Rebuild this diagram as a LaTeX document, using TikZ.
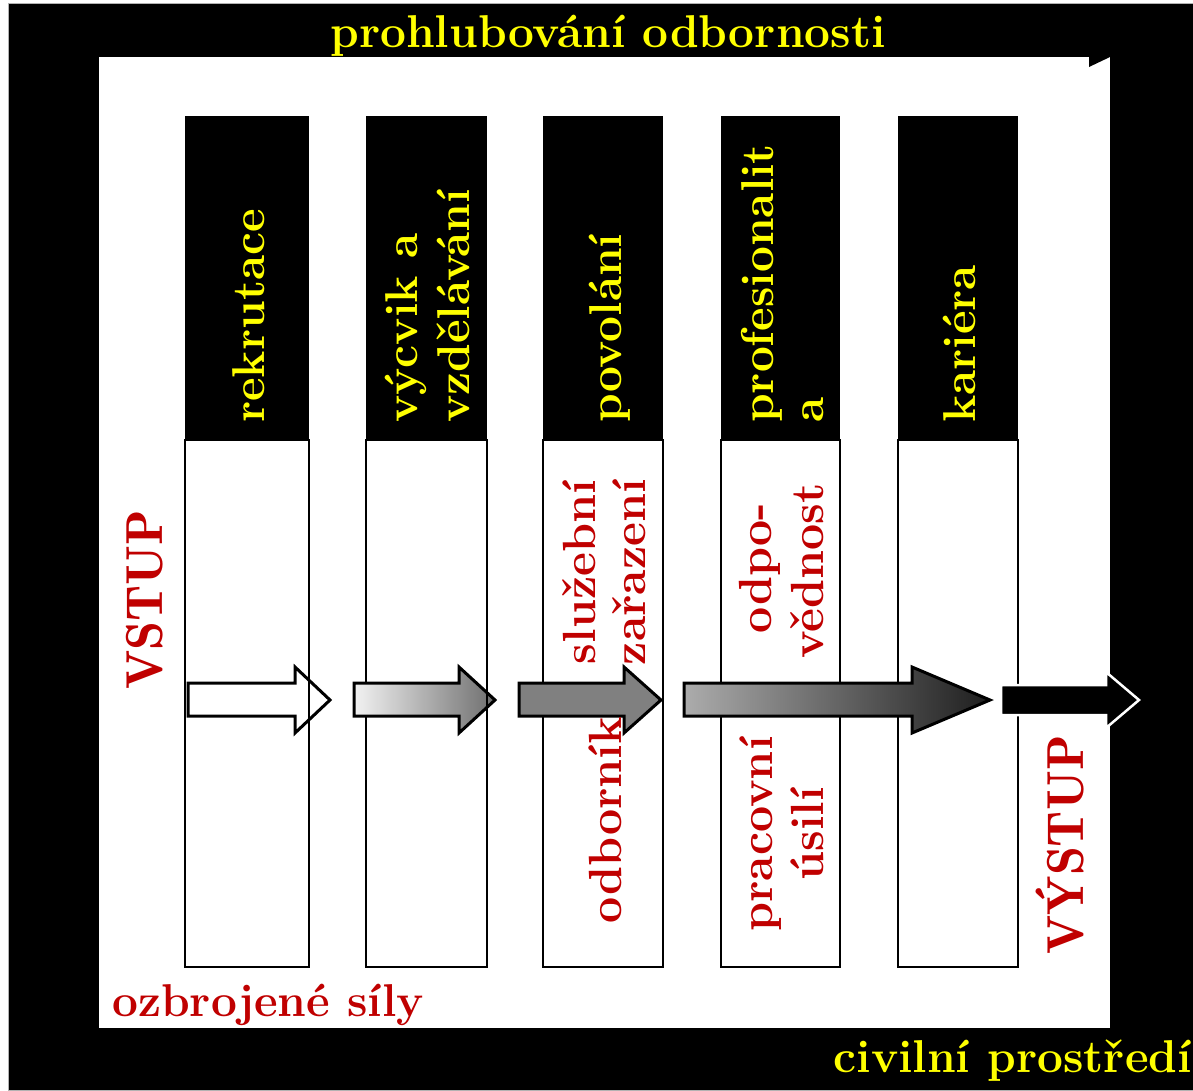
\documentclass[tikz,border=0pt]{standalone}
\usepackage{fontspec}
\newfontfamily\lmdemi{lmromandemi10-regular.otf}
\definecolor{hdryellow}{RGB}{255,255,0}
\definecolor{dkred}{RGB}{192,0,0}
\definecolor{gA}{RGB}{242,242,242}
\definecolor{gB}{RGB}{110,110,110}
\definecolor{gC}{RGB}{128,128,128}
\definecolor{gD}{RGB}{172,172,172}
\definecolor{gE}{RGB}{30,30,30}
\tikzset{
  hdr/.style={rotate=90, anchor=base west, inner sep=0pt, text=hdryellow, font=\bfseries\fontsize{46}{50}\selectfont},
  redv/.style={rotate=90, anchor=base, inner sep=0pt, text=dkred, font=\bfseries\fontsize{46.5}{50}\selectfont},
  bigred/.style={rotate=90, anchor=base, inner sep=0pt, text=dkred, font=\lmdemi\fontsize{52}{56}\selectfont},
  flat/.style={inner sep=0pt, font=\bfseries\fontsize{46}{50}\selectfont},
  arr/.style={draw=black, line width=3pt, line join=miter},
  colborder/.style={draw=black, line width=2.3pt},
}
\begin{document}
\begin{tikzpicture}[x=1pt,y=-1pt]
\useasboundingbox (0,0) rectangle (1193,1090);
% frame
\fill[black, draw=gray!60, line width=0.8pt] (8,3) rectangle (1193,1090);
\fill[white] (99,57) rectangle (1110,1028);
\fill[black] (1089,57) -- (1089,67) -- (1110,57) -- cycle;
% columns: fills, headers, borders
\foreach \xa/\xb in {185/309, 366/487, 543/663, 721/840, 898/1018}{
  \fill[white] (\xa,440) rectangle (\xb,967);
  \fill[black] (\xa,116) rectangle (\xb,440);
  \draw[colborder] (\xa,440) rectangle (\xb,967);
}
% arrows
\draw[arr, fill=white] (188,683) -- (295,683) -- (295,667) -- (330,700) -- (295,733) -- (295,716) -- (188,716) -- cycle;
\draw[arr, left color=gA, right color=gB] (354,683) -- (459,683) -- (459,667) -- (495,700) -- (459,733) -- (459,716) -- (354,716) -- cycle;
% right borders of columns 1 and 2 lie over the arrows
\draw[colborder] (309,440) -- (309,967);
\draw[colborder] (487,440) -- (487,967);
\draw[arr, fill=gC] (519,683) -- (624,683) -- (624,667) -- (661,700) -- (624,733) -- (624,716) -- (519,716) -- cycle;
\draw[arr, left color=gD, right color=gE] (684,683) -- (912,683) -- (912,667) -- (990,700) -- (912,733) -- (912,716) -- (684,716) -- cycle;
\draw[draw=white, line width=2.5pt, fill=black] (1001,685) -- (1106,685) -- (1106,672) -- (1139,700) -- (1106,728) -- (1106,715) -- (1001,715) -- cycle;
% header texts
\node[hdr] (h1) at (264,423) {rekrutace};
\node[hdr] (h2a) at (417,423) {výcvik a};
\node[hdr] (h2b) at (469,423) {vzdělávání};
\node[hdr] (h3) at (621,423) {povolání};
\node[hdr] (h4a) at (773,423) {profesionalit};
\node[hdr] (h4b) at (823,423) {a};
\node[hdr] (h5) at (975,423) {kariéra};
% red texts in columns
\node[redv] (r1) at (595,572) {služební};
\node[redv] (r2) at (645,572) {zařazení};
\node[redv] (r3) at (621,820) {odborník};
\node[redv] (r4) at (771,568) {odpo-};
\node[redv] (r5) at (823,571) {vědnost};
\node[redv] (r6) at (772,834) {pracovní};
\node[redv] (r7) at (823,834) {úsilí};
% big labels
\node[bigred] (vstup) at (162,600) {VSTUP};
\node[bigred] (vystup) at (1083,845) {VÝSTUP};
\node[flat, text=dkred, anchor=base west] (oz) at (112,1016) {ozbrojené síly};
\node[flat, text=hdryellow, anchor=base east] (civ) at (1192,1072) {civilní prostředí};
\node[flat, text=hdryellow, anchor=base] (top) at (608,47) {prohlubování odbornosti};
\end{tikzpicture}
\end{document}
